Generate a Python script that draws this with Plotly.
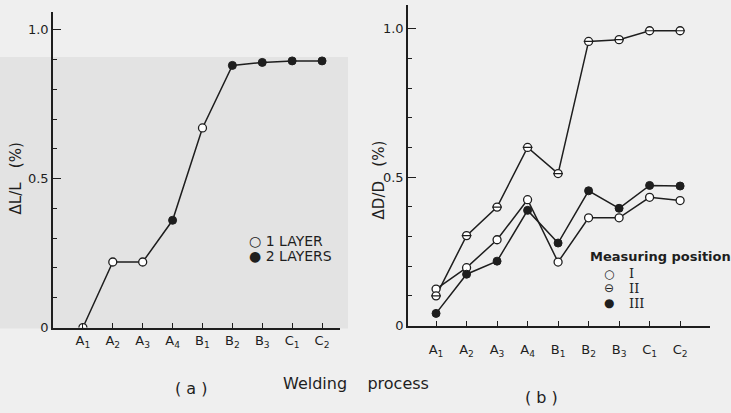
import plotly.graph_objects as go

categories = ["A<sub>1</sub>", "A<sub>2</sub>", "A<sub>3</sub>", "A<sub>4</sub>", "B<sub>1</sub>",
              "B<sub>2</sub>", "B<sub>3</sub>", "C<sub>1</sub>", "C<sub>2</sub>"]
dl_values = [0.0, 0.22, 0.22, 0.36, 0.67, 0.88, 0.89, 0.895, 0.895]
dl_layers = [1, 1, 1, 2, 1, 2, 2, 2, 2]
dd_I = [0.123, 0.195, 0.289, 0.424, 0.214, 0.363, 0.363, 0.432, 0.421]
dd_II = [0.10, 0.303, 0.399, 0.60, 0.512, 0.957, 0.963, 0.993, 0.993]
dd_III = [0.041, 0.173, 0.217, 0.388, 0.278, 0.454, 0.395, 0.472, 0.470]
ytick_vals = [0, 0.5, 1.0]
ytick_text = ["0", "0.5", "1.0"]

INK = "#1e1e1e"
FONT = "DejaVu Sans"
xs = list(range(len(categories)))

fig = go.Figure()

# panel (a)
fig.add_trace(go.Scatter(x=xs, y=dl_values, mode="lines", line=dict(color=INK, width=1.5),
                         xaxis="x", yaxis="y", showlegend=False, hoverinfo="skip"))
x1 = [x for x, l in zip(xs, dl_layers) if l == 1]
y1 = [v for v, l in zip(dl_values, dl_layers) if l == 1]
x2 = [x for x, l in zip(xs, dl_layers) if l == 2]
y2 = [v for v, l in zip(dl_values, dl_layers) if l == 2]
fig.add_trace(go.Scatter(x=x1, y=y1, mode="markers", xaxis="x", yaxis="y", showlegend=False,
                         marker=dict(symbol="circle", size=8, color="white", line=dict(color=INK, width=1.3))))
fig.add_trace(go.Scatter(x=x2, y=y2, mode="markers", xaxis="x", yaxis="y", showlegend=False,
                         marker=dict(symbol="circle", size=8, color=INK, line=dict(color=INK, width=1))))

# panel (b)
for ys in (dd_I, dd_II, dd_III):
    fig.add_trace(go.Scatter(x=xs, y=ys, mode="lines", line=dict(color=INK, width=1.5),
                             xaxis="x2", yaxis="y2", showlegend=False, hoverinfo="skip"))
fig.add_trace(go.Scatter(x=xs, y=dd_I, mode="markers", xaxis="x2", yaxis="y2", showlegend=False,
                         marker=dict(symbol="circle", size=8, color="white", line=dict(color=INK, width=1.3))))
fig.add_trace(go.Scatter(x=xs, y=dd_II, mode="markers", xaxis="x2", yaxis="y2", showlegend=False,
                         marker=dict(symbol="circle", size=8, color="white", line=dict(color=INK, width=1.3))))
fig.add_trace(go.Scatter(x=xs, y=dd_II, mode="markers", xaxis="x2", yaxis="y2", showlegend=False,
                         marker=dict(symbol="line-ew", size=7, color=INK, line=dict(color=INK, width=1.2))))
fig.add_trace(go.Scatter(x=xs, y=dd_III, mode="markers", xaxis="x2", yaxis="y2", showlegend=False,
                         marker=dict(symbol="circle", size=8, color=INK, line=dict(color=INK, width=1))))

W, H = 731, 413


def xp(px):
    return px / W


def yp(py):
    return (H - py) / H


common_x = dict(tickmode="array", tickvals=xs, ticktext=categories, ticks="inside", ticklen=5,
                tickcolor=INK, showline=True, linecolor=INK, linewidth=1.5, showgrid=False,
                zeroline=False, tickfont=dict(family=FONT, size=13, color=INK))
common_y = dict(tickmode="array", tickvals=ytick_vals, ticktext=ytick_text, ticks="inside", ticklen=8,
                tickcolor=INK, showline=True, linecolor=INK, linewidth=1.5, showgrid=False,
                zeroline=False, tickfont=dict(family=FONT, size=13, color=INK),
                minor=dict(dtick=0.1, tick0=0, ticks="inside", ticklen=4, tickcolor=INK))

xa = dict(common_x, domain=[xp(53), xp(340)], range=[-1.0, 8.6], anchor="y")
ya = dict(common_y, domain=[yp(334), yp(12)], range=[0, 1.06], anchor="x")
xb = dict(common_x, domain=[xp(408), xp(710)], range=[-0.92, 8.98], anchor="y2", ticklabelstandoff=11)
yb = dict(common_y, domain=[yp(332), yp(5)], range=[0, 1.08], anchor="x2")

DY = 5


def ann(text, px, py, size=13, xanchor="center", family=FONT, angle=0, dy=DY):
    return dict(text=text, x=xp(px), y=yp(py + dy), xref="paper", yref="paper", xanchor=xanchor,
                yanchor="middle", textangle=angle, showarrow=False,
                font=dict(family=family, size=size, color=INK))


annotations = [
    ann("ΔL/L   (%)", 16, 180, size=15, angle=-90, dy=2),
    ann("ΔD/D   (%)", 379, 182, size=15, angle=-90, dy=2),
    ann("Welding    process", 356, 386, size=16),
    ann("( a )", 191, 391, size=16),
    ann("( b )", 541, 400, size=16),
    ann("○ 1 LAYER", 247, 241, size=14, xanchor="left"),
    ann("● 2 LAYERS", 247, 256, size=14, xanchor="left"),
    ann("<b>Measuring position</b>", 588, 257, xanchor="left"),
    ann("○", 609, 274, size=12),
    ann("⊖", 609, 289, size=12),
    ann("●", 609, 304, size=12),
    ann("I", 627, 274, xanchor="left", family="DejaVu Serif"),
    ann("II", 627, 289, xanchor="left", family="DejaVu Serif"),
    ann("III", 627, 304, xanchor="left", family="DejaVu Serif"),
]

shapes = [dict(type="rect", xref="paper", yref="paper", x0=0, x1=xp(348), y0=yp(335), y1=yp(58),
               fillcolor="#e3e3e3", line=dict(width=0), layer="below")]

fig.update_layout(width=W, height=H, margin=dict(l=0, r=0, t=0, b=0),
                  paper_bgcolor="#efefef", plot_bgcolor="rgba(0,0,0,0)",
                  xaxis=xa, yaxis=ya, xaxis2=xb, yaxis2=yb,
                  annotations=annotations, shapes=shapes, showlegend=False)

fig.write_html("out.html")
